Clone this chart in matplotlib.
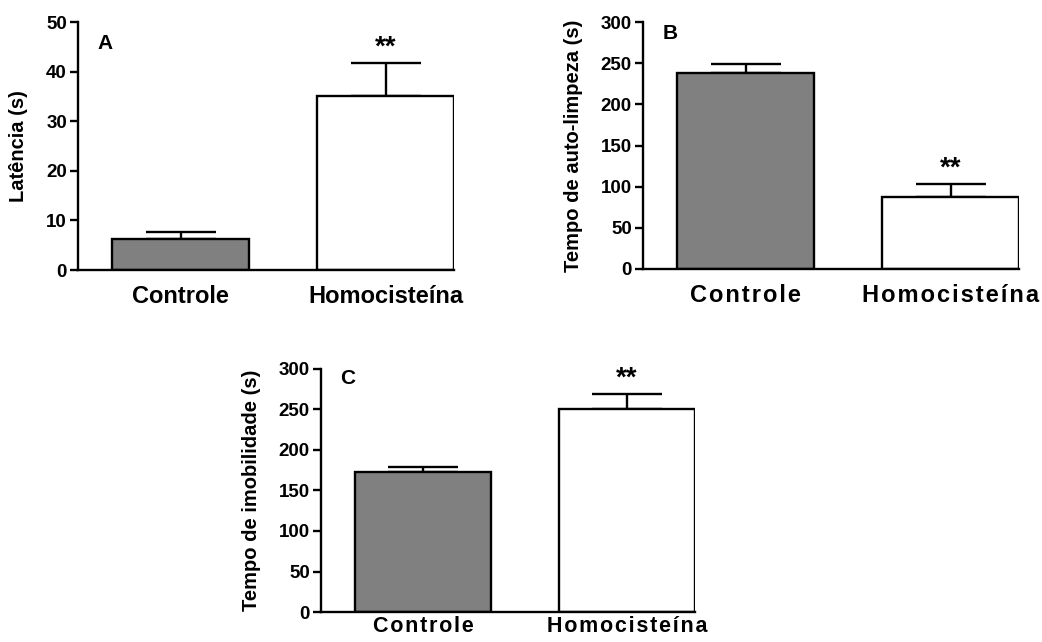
"""
    Three bar panels (A, B, C): Controle vs Homocisteína, mean + SEM
"""
import matplotlib
matplotlib.use('Agg')
from matplotlib import pyplot as plt

groups = ['Controle', 'Homocisteína']
colors = ['#808080', 'white']

# panel A - latency
lat_mean = [6.2, 35.0]
lat_err = [1.5, 6.8]

# panel B - self-grooming time
grooming_mean = [238, 88]
grooming_err = [11, 15]

# panel C - immobility time
immob_mean = [173, 250]
immob_err = [6, 19]

plt.rcParams['font.family'] = ['Liberation Sans', 'DejaVu Sans']
plt.rcParams['font.weight'] = 'bold'


def spaced(word):
    """ Loosen letter spacing with hair spaces """
    return '\u200a'.join(word)


def bar_panel(fig, rect, means, errs, ymax, ystep, ylabel, letter, letter_y,
              xlabels, label_x, xpad=11, xsize=17):
    ax = fig.add_axes(rect)
    x = [0, 1]
    ax.bar(x, means, width=0.668, color=colors, edgecolor='black', linewidth=1.7, zorder=2)
    ax.errorbar(x, means, yerr=[[0, 0], errs], fmt='none', ecolor='black',
                elinewidth=1.7, capsize=25, capthick=1.7, zorder=1)

    # significance marks over the treated group
    ax.text(1, means[1] + errs[1] + ymax * 0.01, '**', ha='center', va='bottom',
            fontsize=20, fontweight='bold')
    ax.text(0.052, letter_y, letter, transform=ax.transAxes, ha='left', va='center',
            fontsize=15, fontweight='bold')

    ax.set_xlim(-0.5, 1.334)
    ax.set_ylim(0, ymax)
    ax.set_yticks(range(0, ymax + 1, ystep))
    ax.set_xticks(x)
    ax.set_xticklabels(xlabels, fontsize=xsize, fontweight='bold')
    ax.tick_params(axis='x', length=0, pad=xpad)
    ax.tick_params(axis='y', length=6, width=1.7, labelsize=13.5, pad=2)
    for lbl in ax.get_yticklabels():
        lbl.set_fontweight('bold')
    ax.set_ylabel(ylabel, fontsize=14.5, fontweight='bold')
    ax.yaxis.set_label_coords(label_x, 0.5)

    for side in ['top', 'right']:
        ax.spines[side].set_visible(False)
    for side in ['left', 'bottom']:
        ax.spines[side].set_linewidth(1.7)
    return ax


fig = plt.figure(figsize=(10.42, 6.42), dpi=100)

bar_panel(fig, [0.0749, 0.5794, 0.3608, 0.3863], lat_mean, lat_err, 50, 10,
          'Latência (s)', 'A', 0.915, groups, -0.133)
bar_panel(fig, [0.6171, 0.5810, 0.3608, 0.3847], grooming_mean, grooming_err, 300, 50,
          'Tempo de auto-limpeza (s)', 'B', 0.955, [spaced(g) for g in groups], -0.16)
bar_panel(fig, [0.3081, 0.0467, 0.3590, 0.3786], immob_mean, immob_err, 300, 50,
          'Tempo de imobilidade (s)', 'C', 0.96, [spaced(g) for g in groups], -0.16,
          xpad=3, xsize=15.5)

fig.savefig('out.png', dpi=100)
